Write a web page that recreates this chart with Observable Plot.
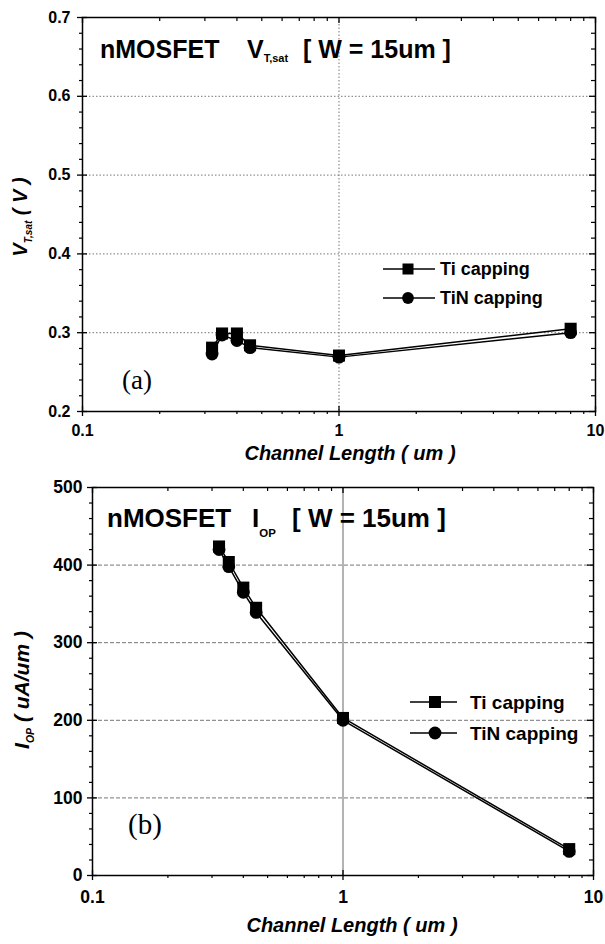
<!DOCTYPE html>
<html><head><meta charset="utf-8">
<script src="https://cdn.jsdelivr.net/npm/d3@7"></script>
<script src="https://cdn.jsdelivr.net/npm/@observablehq/plot@0.6"></script>
<style>
body{margin:0;background:#fff;}
#wrap{position:relative;width:605px;height:944px;overflow:hidden;}
#wrap svg{position:absolute;left:0;}
#overlay{top:0;pointer-events:none;}
</style></head><body><div id="wrap"></div>
<script>
// ---- data ----
const channelLength = [0.32, 0.35, 0.40, 0.45, 1, 8];
const vtTi  = [0.281, 0.299, 0.299, 0.284, 0.271, 0.305];
const vtTiN = [0.273, 0.297, 0.290, 0.281, 0.269, 0.300];
const iopTi  = [424, 404, 371, 345, 203, 34];
const iopTiN = [420, 398, 365, 339, 200, 31];
const seriesNames = ["Ti capping", "TiN capping"];
const xTicks = [0.1, 1, 10];
const xTickLabels = ["0.1", "1", "10"];
const vtTicks = [0.2, 0.3, 0.4, 0.5, 0.6, 0.7];
const vtTickLabels = ["0.2", "0.3", "0.4", "0.5", "0.6", "0.7"];
const iopTicks = [0, 100, 200, 300, 400, 500];
const iopTickLabels = ["0", "100", "200", "300", "400", "500"];

const FONT = "Liberation Sans, Arial, sans-serif";
const xMinor = [0.2,0.3,0.4,0.5,0.6,0.7,0.8,0.9,2,3,4,5,6,7,8,9];

function panel(o) {
  const innerH = o.height - o.mt - o.mb;
  const innerW = 605 - o.ml - o.mr;
  const ti = channelLength.map((L, i) => ({L, v: o.ti[i]}));
  const tin = channelLength.map((L, i) => ({L, v: o.tin[i]}));
  const yMinor = d3.range(o.yDomain[0], o.yDomain[1] + o.minorStep / 2, o.minorStep)
    .filter(v => !o.yTicks.some(t => Math.abs(t - v) < o.minorStep / 10));
  const gridY = o.yTicks.filter(t => t > o.yDomain[0] && t < o.yDomain[1]);
  const ax = {label: null};
  return Plot.plot({
    width: 605, height: o.height,
    marginLeft: o.ml, marginRight: o.mr, marginTop: o.mt, marginBottom: o.mb,
    style: {fontFamily: FONT, background: "transparent", overflow: "visible"},
    x: {type: "log", domain: [0.1, 10], label: null},
    y: {domain: o.yDomain, label: null},
    marks: [
      Plot.ruleY(gridY, {stroke: "#666", strokeWidth: 0.9, strokeDasharray: o.hDash}),
      Plot.ruleX([1], {stroke: o.vStroke, strokeWidth: 0.9, strokeDasharray: o.vDash}),
      // outward ticks (bottom / left)
      Plot.axisX({...ax, anchor: "bottom", ticks: xTicks, tickSize: 5, tickFormat: () => "", strokeWidth: 1.3}),
      Plot.axisX({...ax, anchor: "bottom", ticks: xMinor, tickSize: 3, tickFormat: () => "", strokeWidth: 1.2}),
      Plot.axisY({...ax, anchor: "left", ticks: o.yTicks, tickSize: 5, tickFormat: () => "", strokeWidth: 1.3}),
      Plot.axisY({...ax, anchor: "left", ticks: yMinor, tickSize: 3, tickFormat: () => "", strokeWidth: 1.2}),
      // inward ticks
      Plot.tickX(xTicks, {x: d => d, insetTop: innerH - 5, stroke: "black", strokeWidth: 1.3}),
      Plot.tickX(xTicks, {x: d => d, insetBottom: innerH - 6, stroke: "black", strokeWidth: 1.3}),
      Plot.tickX(xMinor, {x: d => d, insetBottom: innerH - 4, stroke: "black", strokeWidth: 1.2}),
      Plot.tickY(o.yTicks, {y: d => d, insetRight: innerW - 5, stroke: "black", strokeWidth: 1.3}),
      Plot.tickY(o.yTicks, {y: d => d, insetLeft: innerW - 6, stroke: "black", strokeWidth: 1.3}),
      Plot.tickY(yMinor, {y: d => d, insetLeft: innerW - 4, stroke: "black", strokeWidth: 1.2}),
      // labels
      Plot.axisX({...ax, anchor: "bottom", ticks: xTicks, tickSize: 0, tickPadding: o.xPad,
        tickFormat: d => xTickLabels[xTicks.indexOf(d)], fontSize: o.tickFs, fontWeight: "bold", fill: "black"}),
      Plot.axisY({...ax, anchor: "left", ticks: o.yTicks, tickSize: 0, tickPadding: o.yPad,
        tickFormat: d => o.yTickLabels[o.yTicks.indexOf(d)], fontSize: o.tickFs, fontWeight: "bold", fill: "black"}),
      Plot.frame({stroke: "black", strokeWidth: 1.5}),
      // data
      Plot.line(tin, {x: "L", y: "v", stroke: "black", strokeWidth: 1.5}),
      Plot.line(ti, {x: "L", y: "v", stroke: "black", strokeWidth: 1.5}),
      Plot.dot(tin, {x: "L", y: "v", symbol: "circle", r: 6.4, fill: "black"}),
      Plot.dot(ti, {x: "L", y: "v", symbol: "square", r: 6.8, fill: "black"})
    ]
  });
}

const wrap = document.getElementById("wrap");
const top1 = panel({height: 470, ml: 82, mr: 10, mt: 17, mb: 59, yDomain: [0.2, 0.7],
  yTicks: vtTicks, yTickLabels: vtTickLabels, minorStep: 0.02, ti: vtTi, tin: vtTiN,
  tickFs: 16, xPad: 13, yPad: 12, hDash: "1.5,2", vStroke: "#666", vDash: "1.5,2"});
top1.style.top = "0px";
wrap.appendChild(top1);
const bot = panel({height: 474, ml: 92, mr: 12, mt: 17, mb: 69, yDomain: [0, 500],
  yTicks: iopTicks, yTickLabels: iopTickLabels, minorStep: 20, ti: iopTi, tin: iopTiN,
  tickFs: 17.5, xPad: 15, yPad: 10, hDash: "4,2", vStroke: "#555", vDash: null});
bot.style.top = "470px";
wrap.appendChild(bot);

// ---- overlay: titles, axis labels, legends, panel tags ----
const ov = d3.select(wrap).append("svg").attr("id", "overlay")
  .attr("width", 605).attr("height", 944).style("font-family", FONT);

function title(x, y, fs, main, sym, sub, subDy, symX, rest, restX) {
  const t = ov.append("text").attr("y", y).attr("font-size", fs).attr("font-weight", "bold").attr("fill", "black");
  t.append("tspan").attr("x", x).text(main);
  t.append("tspan").attr("x", symX).text(sym);
  t.append("tspan").attr("font-size", fs * 0.44).attr("dy", subDy).text(sub);
  t.append("tspan").attr("x", restX).attr("dy", -subDy).attr("xml:space", "preserve").text(rest);
}
title(100, 58, 25, "nMOSFET", "V", "T,sat", 4, 247, "[ W = 15um ]", 303);
title(107, 527, 26, "nMOSFET", "I", "OP", 10, 252, "[ W = 15um ]", 292);

function yLabel(x, y, fs, sym, sub, rest) {
  const t = ov.append("text").attr("transform", `translate(${x},${y}) rotate(-90)`)
    .attr("text-anchor", "middle").attr("font-size", fs).attr("font-weight", "bold")
    .attr("font-style", "italic").attr("fill", "black");
  t.append("tspan").text(sym);
  t.append("tspan").attr("font-size", fs * 0.5).attr("dy", 5).text(sub);
  t.append("tspan").attr("dy", -5).text(rest);
}
yLabel(27, 217, 20, "V", "T,sat", " ( V )");
yLabel(29, 690, 21, "I", "OP", " ( uA/um )");

function xLabel(x, y, fs) {
  ov.append("text").attr("x", x).attr("y", y).attr("text-anchor", "middle")
    .attr("font-size", fs).attr("font-weight", "bold").attr("font-style", "italic")
    .attr("fill", "black").text("Channel Length ( um )");
}
xLabel(350, 460, 20);
xLabel(352, 932, 20);

function legend(lx1, lx2, sx, tx, y1, y2, fs, side) {
  [[y1, "square"], [y2, "circle"]].forEach(([y, s], i) => {
    ov.append("line").attr("x1", lx1).attr("x2", lx2).attr("y1", y).attr("y2", y)
      .attr("stroke", "black").attr("stroke-width", 1.3);
    if (s === "square") ov.append("rect").attr("x", sx - side / 2).attr("y", y - side / 2)
      .attr("width", side).attr("height", side).attr("fill", "black");
    else ov.append("circle").attr("cx", sx).attr("cy", y).attr("r", side / 2 + 0.4).attr("fill", "black");
    ov.append("text").attr("x", tx).attr("y", y + fs * 0.36).attr("font-size", fs)
      .attr("font-weight", "bold").attr("fill", "black").text(seriesNames[i]);
  });
}
legend(383, 435, 408, 440, 269, 298, 18, 11);
legend(410, 457, 435, 470, 702, 733, 19, 12);

function tag(x, y, fs, s) {
  ov.append("text").attr("x", x).attr("y", y).attr("font-size", fs)
    .attr("font-family", "Liberation Serif, Times New Roman, serif").attr("fill", "black").text(s);
}
tag(122, 389, 27, "(a)");
tag(128, 834, 29, "(b)");
</script>
</body></html>
